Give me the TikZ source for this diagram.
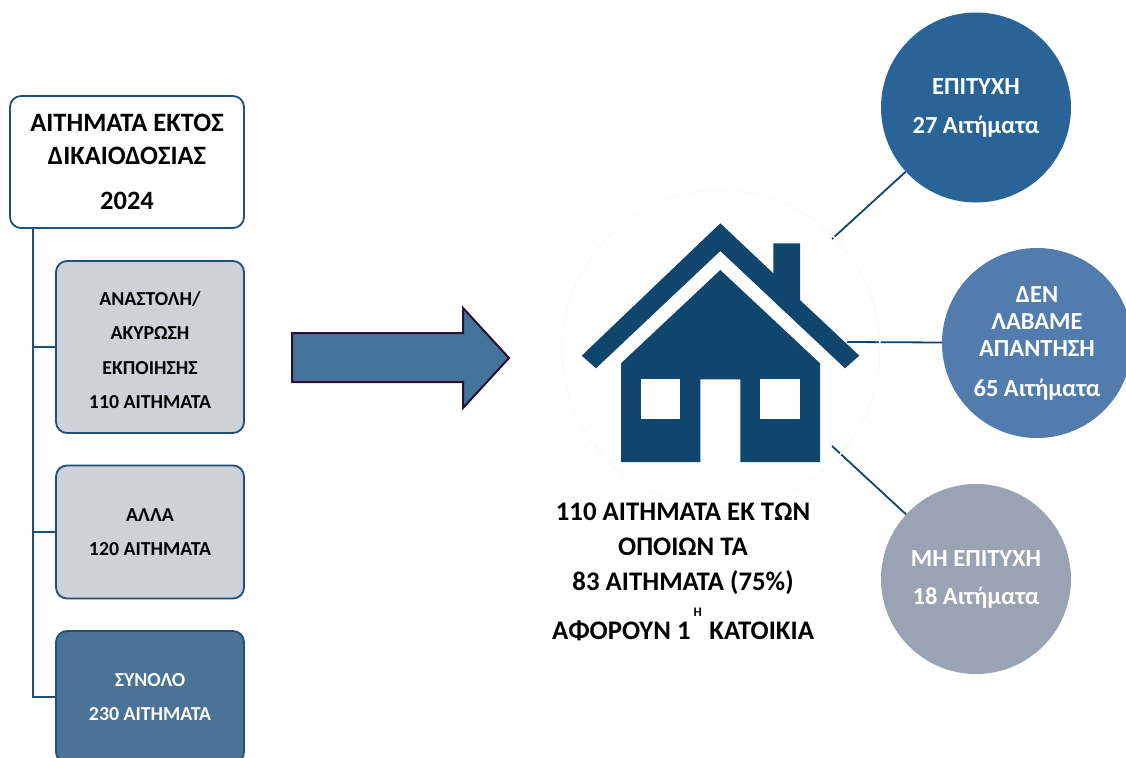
\documentclass[tikz,border=0pt]{standalone}
\usepackage{fontspec}
\setmainfont{Carlito}
\definecolor{boxline}{HTML}{1F5078}
\definecolor{boxgray}{HTML}{CDD1D8}
\definecolor{boxdark}{HTML}{4A7396}
\definecolor{housecol}{HTML}{10456D}
\definecolor{arrowfill}{HTML}{41739B}
\definecolor{arrowline}{HTML}{2A0F35}
\definecolor{circa}{HTML}{2A6496}
\definecolor{circb}{HTML}{527BAE}
\definecolor{circc}{HTML}{9AA3B3}
\tikzset{
  x=1pt,y=-1pt,
  box/.style={draw=boxline,line width=1.8pt,rounded corners=11pt,align=center,inner sep=0pt,text=black},
  titlebox/.style={box,fill=white,minimum width=234pt,minimum height=132pt,font=\bfseries\fontsize{26.5}{33}\selectfont},
  graybox/.style={box,fill=boxgray,minimum width=188pt,font=\bfseries\fontsize{19.8}{34.3}\selectfont},
  darkbox/.style={graybox,fill=boxdark,text=white},
  bubble/.style={circle,minimum size=190pt,inner sep=0pt,align=center,text=white,font=\bfseries\fontsize{24.5}{27}\selectfont},
  link/.style={draw=boxline,line width=1.8pt},
  spoke/.style={draw=housecol,line width=1.8pt},
  housepart/.style={fill=housecol,draw=none},
  caption/.style={align=center,inner sep=0pt,font=\bfseries\fontsize{26.8}{35}\selectfont}
}
\begin{document}
\begin{tikzpicture}
\clip (0,0) rectangle (1126,757);
\fill[white] (0,0) rectangle (1126,757);

% left tree
\node[titlebox] (title) at (127,162) {ΑΙΤΗΜΑΤΑ ΕΚΤΟΣ\\ΔΙΚΑΙΟΔΟΣΙΑΣ\\[12pt]2024};
\node[graybox,minimum height=172pt] (stay) at (150,347) {\rule{0pt}{20pt}ΑΝΑΣΤΟΛΗ/\\ΑΚΥΡΩΣΗ\\ΕΚΠΟΙΗΣΗΣ\\110 ΑΙΤΗΜΑΤΑ};
\node[graybox,minimum height=133pt] (other) at (150,532) {ΑΛΛΑ\\120 ΑΙΤΗΜΑΤΑ};
\node[darkbox,minimum height=132pt] (total) at (150,697) {ΣΥΝΟΛΟ\\230 ΑΙΤΗΜΑΤΑ};
\coordinate (trunk) at (33,228);
\draw[link] (trunk) -- (trunk |- total.west) -- (total.west);
\draw[link] (trunk |- stay.west) -- (stay.west);
\draw[link] (trunk |- other.west) -- (other.west);

% big arrow
\draw[fill=arrowfill,draw=arrowline,line width=2pt,miter limit=10]
  (292,333) -- (463,333) -- (463,308) -- (509,358) -- (463,408) -- (463,382) -- (292,382) -- cycle;

% outcome circles
\node[bubble,fill=circa] (win) at (976,107.5) {ΕΠΙΤΥΧΗ\\[12pt]27 Αιτήματα};
\node[bubble,fill=circb] (noreply) at (1037,343) {ΔΕΝ\\ΛΑΒΑΜΕ\\ΑΠΑΝΤΗΣΗ\\[13pt]65 Αιτήματα};
\node[bubble,fill=circc] (lose) at (976,579) {ΜΗ ΕΠΙΤΥΧΗ\\[11pt]18 Αιτήματα};

% connectors and house circle
\coordinate (hubwin) at (832,239);
\coordinate (hubreply) at (847,342);
\coordinate (hublose) at (832,446);
\draw[spoke] (hubwin) -- (win);
\draw[spoke] (hubreply) -- (noreply);
\draw[spoke] (hublose) -- (lose);
\node[circle,draw=white,line width=1.6pt,minimum size=318pt,inner sep=0pt] (hub) at (721,349) {};
\draw[black!10,line width=0.5pt,densely dotted] (hub.center) circle[radius=159];

% house
\fill[housepart] (720.3,223.3) -- (773.3,273.3) -- (773.3,243.3) -- (800,243.3) -- (800,300)
  -- (859.3,355.7) -- (845,368.3) -- (720.3,251) -- (596,368.3) -- (581.7,355.7) -- cycle;
\fill[housepart] (720.3,270) -- (820,363.3) -- (820,462) -- (740.3,462) -- (740.3,379.3)
  -- (700.3,379.3) -- (700.3,462) -- (621,462) -- (621,363.3) -- cycle;
\fill[white] (640.7,379.3) rectangle (680.3,419.3);
\fill[white] (760,379.3) rectangle (800,419.3);

% caption
\node[caption] (note) at (683,572) {110 ΑΙΤΗΜΑΤΑ ΕΚ ΤΩΝ\\ΟΠΟΙΩΝ ΤΑ\\83 ΑΙΤΗΜΑΤΑ (75\%)\\[13pt]ΑΦΟΡΟΥΝ 1\raisebox{23pt}{\kern3pt\fontsize{13}{13}\selectfont Η\kern3pt}\,ΚΑΤΟΙΚΙΑ};
\end{tikzpicture}
\end{document}
